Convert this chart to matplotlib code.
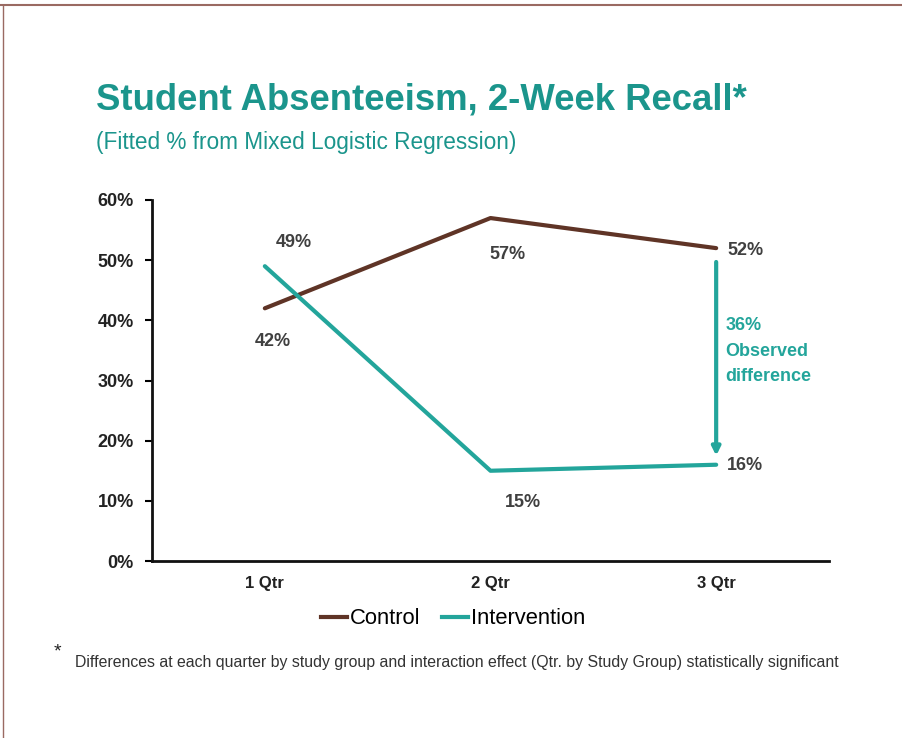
import matplotlib.pyplot as plt
from matplotlib.lines import Line2D

plt.rcParams['font.family'] = ['Liberation Sans', 'DejaVu Sans']

quarters = ['1 Qtr', '2 Qtr', '3 Qtr']
control = [42, 57, 52]
intervention = [49, 15, 16]
y_ticks = [0, 10, 20, 30, 40, 50, 60]

brown = '#5f3426'
teal = '#23a59b'
title_teal = '#1b958c'
label_gray = '#404040'

fig = plt.figure(figsize=(9.03, 7.38), dpi=100)
ax = fig.add_axes([152 / 903, 177 / 738, 677 / 903, 361 / 738])

x = range(len(quarters))
ax.plot(x, control, color=brown, lw=3, solid_capstyle='round')
ax.plot(x, intervention, color=teal, lw=3, solid_capstyle='round')

ax.set_xlim(-0.5, 2.5)
ax.set_ylim(0, 60)
ax.set_xticks(list(x))
ax.set_xticklabels(quarters, fontsize=12, fontweight='bold', color='#222222')
ax.set_yticks(y_ticks)
ax.set_yticklabels([f'{v}%' for v in y_ticks], fontsize=13, fontweight='bold', color='#222222')
ax.tick_params(axis='x', length=0, pad=11)
ax.tick_params(axis='y', length=5, width=1.5, direction='out', pad=8)
for side in ['top', 'right']:
    ax.spines[side].set_visible(False)
for side in ['left', 'bottom']:
    ax.spines[side].set_linewidth(2)
    ax.spines[side].set_color('#111111')

# value labels next to each point
lbl = dict(fontsize=13, fontweight='bold', color=label_gray, va='center', textcoords='offset points')
ax.annotate(f'{intervention[0]}%', (0, intervention[0]), xytext=(21, 17), ha='center', **lbl)
ax.annotate(f'{control[0]}%', (0, control[0]), xytext=(6, -24), ha='center', **lbl)
ax.annotate(f'{control[1]}%', (1, control[1]), xytext=(12, -26), ha='center', **lbl)
ax.annotate(f'{intervention[1]}%', (1, intervention[1]), xytext=(23, -23), ha='center', **lbl)
ax.annotate(f'{control[2]}%', (2, control[2]), xytext=(8, -1.5), ha='left', **lbl)
ax.annotate(f'{intervention[2]}%', (2, intervention[2]), xytext=(8, -0.5), ha='left', **lbl)

# observed difference arrow at 3 Qtr
ax.annotate('', xy=(2, intervention[2] + 1.5), xytext=(2, control[2] - 2.3),
            arrowprops=dict(arrowstyle='-|>', color=teal, lw=3, mutation_scale=12,
                            shrinkA=0, shrinkB=0))
diff = control[2] - intervention[2]
ax.text(2.04, 34.9, f'{diff}%\nObserved\ndifference', fontsize=13, fontweight='bold',
        color=teal, ha='left', va='center', linespacing=1.65)

handles = [Line2D([], [], color=brown, lw=3), Line2D([], [], color=teal, lw=3)]
fig.legend(handles, ['Control', 'Intervention'], loc='center', bbox_to_anchor=(453 / 903, 1 - 619 / 738),
           ncol=2, frameon=False, fontsize=15.8, handlelength=1.2, handletextpad=0.1, columnspacing=1.0)

fig.text(96 / 903, 1 - 100 / 738, 'Student Absenteeism, 2-Week Recall*', fontsize=26.3,
         fontweight='bold', color=title_teal, ha='left', va='center')
fig.text(96 / 903, 1 - 142 / 738, '(Fitted % from Mixed Logistic Regression)', fontsize=16.3,
         color=title_teal, ha='left', va='center')

fig.text(54 / 903, 1 - 652 / 738, '*', fontsize=14, color='#222222', ha='left', va='center')
fig.text(75 / 903, 1 - 662 / 738,
         'Differences at each quarter by study group and interaction effect (Qtr. by Study Group) statistically significant',
         fontsize=11.4, color='#333333', ha='left', va='center')

# frame lines along the top and left edges
fig.add_artist(Line2D([0, 1], [1 - 5 / 738] * 2, color='#9a6a62', lw=1.5, transform=fig.transFigure))
fig.add_artist(Line2D([3 / 903] * 2, [0, 1 - 5 / 738], color='#9a6a62', lw=1, transform=fig.transFigure))

fig.savefig('out.png', dpi=100, facecolor='white')
